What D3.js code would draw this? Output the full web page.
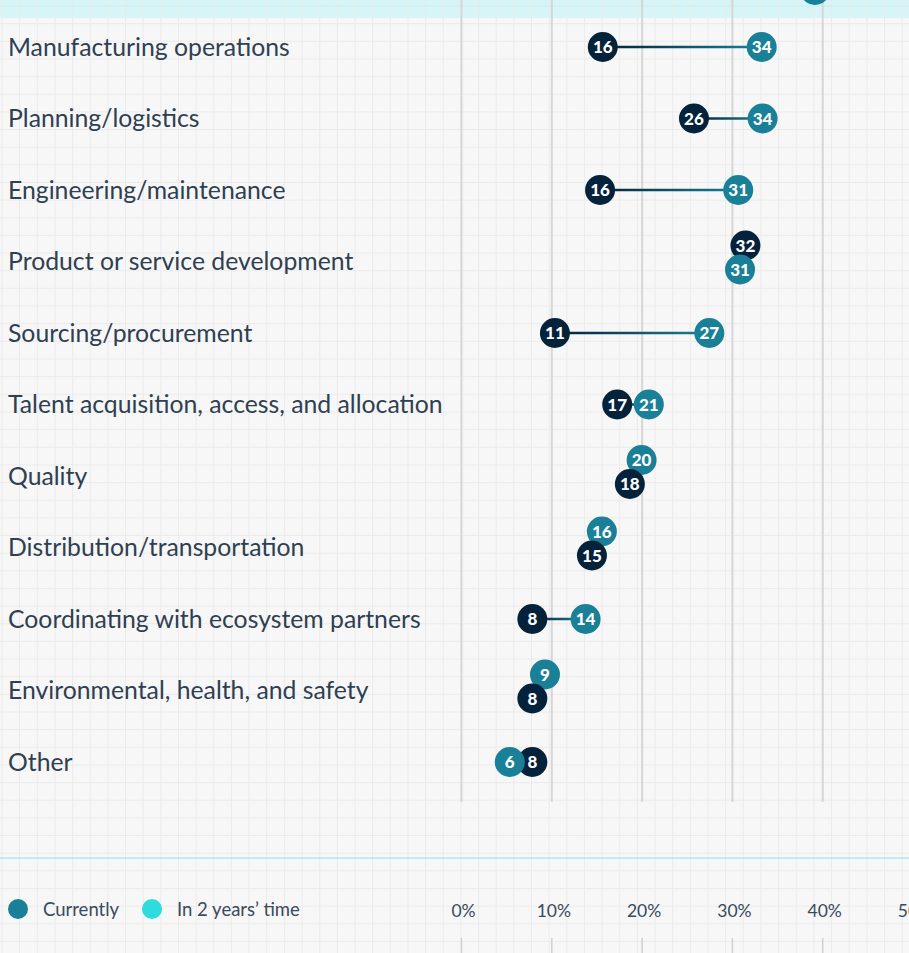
<!DOCTYPE html>
<html>
<head>
<meta charset="utf-8">
<script src="https://cdn.jsdelivr.net/npm/d3@7"></script>
<style>
  html, body { margin: 0; padding: 0; background: #f7f7f7; overflow: hidden; }
  svg { display: block; font-family: Lato, "Open Sans", sans-serif; }
</style>
</head>
<body>
<div id="chart"></div>
<script>
// categories, top to bottom
var categories = [
  "Manufacturing operations",
  "Planning/logistics",
  "Engineering/maintenance",
  "Product or service development",
  "Sourcing/procurement",
  "Talent acquisition, access, and allocation",
  "Quality",
  "Distribution/transportation",
  "Coordinating with ecosystem partners",
  "Environmental, health, and safety",
  "Other"
];
// dot positions (% of respondents)
var currentValues = [15.7, 25.8, 15.4, 31.5, 10.4, 17.3, 18.7, 14.5, 7.9, 7.9, 7.9];
var futureValues  = [33.3, 33.4, 30.7, 30.9, 27.5, 20.8, 20.0, 15.6, 13.8, 9.3, 5.4];
// numbers printed in the dots
var currentLabels = ["16", "26", "16", "32", "11", "17", "18", "15", "8", "8", "8"];
var futureLabels  = ["34", "34", "31", "31", "27", "21", "20", "16", "14", "9", "6"];
// row above this view, only one dot edge shows
var clippedRowFuture = 39.2;

var xTicks = [0, 10, 20, 30, 40, 50];
var legendLabels = ["Currently", "In 2 years\u2019 time"];

var W = 909, H = 953;
var navy = "#04223a", teal = "#1a8097";
var textColor = "#2f3f52";
var r = 15;

var svg = d3.select("#chart").append("svg")
  .attr("width", W).attr("height", H);

// background + grid paper
svg.append("rect").attr("width", W).attr("height", H).attr("fill", "#f7f7f7");
svg.append("rect").attr("width", W).attr("height", 18).attr("fill", "#d7f5f6");

var step = 17.65;
var gx = d3.range(2, W, step), gy = d3.range(6, H, step);
svg.append("g").selectAll("line").data(gx).enter().append("line")
  .attr("x1", d => d).attr("x2", d => d).attr("y1", 0).attr("y2", H)
  .attr("stroke", "#ebebeb").attr("stroke-width", 1);
svg.append("g").selectAll("line").data(gy).enter().append("line")
  .attr("y1", d => d).attr("y2", d => d).attr("x1", 0).attr("x2", W)
  .attr("stroke", d => d < 18 ? "#c9ecee" : "#ebebeb").attr("stroke-width", 1);

// scales
var x = d3.scaleLinear().domain([0, 50]).range([461, 461 + 50 * 9.03]);
var y = d3.scalePoint().domain(categories).range([47, 762]);

// major vertical lines
var major = svg.append("g")
  .attr("transform", "translate(0,802)")
  .call(d3.axisBottom(x).tickValues(xTicks).tickSize(-802).tickFormat(""));
major.select(".domain").remove();
major.selectAll(".tick line").attr("stroke", "#d6d6d6").attr("stroke-width", 2);

// cyan divider
svg.append("line").attr("x1", 0).attr("x2", W).attr("y1", 858).attr("y2", 858)
  .attr("stroke", "#86e4e9").attr("stroke-width", 1.2);

// axis labels
var labAxis = svg.append("g")
  .attr("transform", "translate(0,900)")
  .call(d3.axisBottom(x).tickValues(xTicks).tickSize(0).tickPadding(0).tickFormat(d => d + "%"));
labAxis.select(".domain").remove();
labAxis.selectAll("text")
  .attr("dy", "17px").attr("dx", 2)
  .attr("fill", "#3a4a5d").style("font-size", "17.5px").style("font-family", "Lato, sans-serif");

// small tick marks at bottom
var tk = svg.append("g")
  .attr("transform", "translate(0,938)")
  .call(d3.axisBottom(x).tickValues(xTicks).tickSize(20).tickFormat(""));
tk.select(".domain").remove();
tk.selectAll(".tick line").attr("stroke", "#d0d0d0").attr("stroke-width", 1.5);

// legend
var legColors = [teal, "#2edcdd"];
var legX = [18, 152];
var leg = svg.append("g").selectAll("g").data(legendLabels).enter().append("g")
  .attr("transform", (d, i) => "translate(" + legX[i] + ",909)");
leg.append("circle").attr("r", 10).attr("fill", (d, i) => legColors[i]);
leg.append("text").attr("x", 25).attr("y", 6.5).text(d => d)
  .attr("fill", "#3a4a5d").style("font-size", "18.5px");

// category labels, sized to the widest one
var labels = svg.append("g").selectAll("text").data(categories).enter().append("text")
  .attr("x", 8).text(d => d).attr("fill", textColor).style("font-size", "22px");
var widest = d3.max(labels.nodes(), n => n.getComputedTextLength());
var fs = 22 * 435 / widest;
labels.style("font-size", fs + "px").attr("y", d => y(d) + 0.36 * fs);

// rows
var rows = categories.map(function(c, i) {
  var cv = currentValues[i], fv = futureValues[i];
  var stacked = Math.abs(cv - fv) < 2;
  var cy = y(c), fy = y(c);
  if (stacked) {
    if (cv > fv) { cy -= 16; fy += 8; } else { fy -= 16; cy += 8; }
  }
  return {key: c, i: i, cv: cv, fv: fv, cy: cy, fy: fy, stacked: stacked};
});

var defs = svg.append("defs");
rows.forEach(function(d) {
  var g = defs.append("linearGradient").attr("id", "grad" + d.i)
    .attr("gradientUnits", "userSpaceOnUse")
    .attr("x1", x(d.cv)).attr("x2", x(d.fv)).attr("y1", 0).attr("y2", 0);
  g.append("stop").attr("offset", "0%").attr("stop-color", navy);
  g.append("stop").attr("offset", "100%").attr("stop-color", teal);
});

svg.append("g").selectAll("line").data(rows.filter(d => !d.stacked)).enter().append("line")
  .attr("x1", d => x(d.cv)).attr("x2", d => x(d.fv))
  .attr("y1", d => y(d.key)).attr("y2", d => y(d.key) + 0.01)
  .attr("stroke", d => "url(#grad" + d.i + ")").attr("stroke-width", 2.5);

// dots: upper one first when stacked, otherwise current then future
var dots = [];
rows.forEach(function(d) {
  var c = {v: d.cv, y: d.cy, col: navy, lab: currentLabels[d.i]};
  var f = {v: d.fv, y: d.fy, col: teal, lab: futureLabels[d.i]};
  if (d.stacked && f.y > c.y) dots.push(c, f);
  else if (d.stacked) dots.push(f, c);
  else dots.push(c, f);
});

var dg = svg.append("g").selectAll("g").data(dots).enter().append("g")
  .attr("transform", d => "translate(" + x(d.v) + "," + d.y + ")");
dg.append("circle").attr("r", r).attr("fill", d => d.col);
dg.append("text").attr("text-anchor", "middle").attr("y", 6)
  .attr("fill", "#fff").style("font-size", "17px").style("font-weight", "900")
  .text(d => d.lab);

// the clipped dot from the row above
svg.append("circle").attr("cx", x(clippedRowFuture)).attr("cy", -10).attr("r", r).attr("fill", teal);
</script>
</body>
</html>
